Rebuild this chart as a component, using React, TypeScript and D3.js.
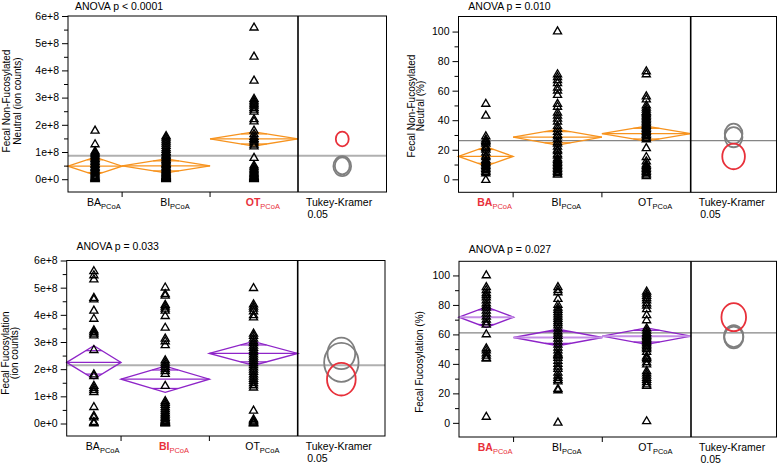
import React, { useEffect, useRef } from 'react'
import * as d3 from 'd3'

const groups = ['BA', 'BI', 'OT']
const groupSizes = [24, 39, 39]

// Fecal non-fucosylated neutral, ion counts (x 1e8)
const nfCountBA = [1.78, 1.28, 1.02, 0.97, 0.92, 0.86, 0.8, 0.74, 0.69, 0.63, 0.57, 0.52, 0.46, 0.41, 0.36, 0.31, 0.26, 0.21, 0.16, 0.11, 0.07, 0.04, 0.02, 0.0]
const nfCountBI = [1.58, 1.52, 1.45, 1.38, 1.3, 1.22, 1.14, 1.07, 1.0, 0.95, 0.9, 0.85, 0.8, 0.76, 0.71, 0.66, 0.61, 0.56, 0.52, 0.47, 0.43, 0.39, 0.35, 0.31, 0.27, 0.24, 0.21, 0.18, 0.15, 0.12, 0.1, 0.08, 0.06, 0.05, 0.04, 0.03, 0.02, 0.01, 0.0]
const nfCountOT = [5.57, 4.5, 3.62, 2.95, 2.88, 2.82, 2.76, 2.7, 2.62, 2.55, 2.48, 2.2, 2.12, 1.78, 1.65, 1.55, 1.48, 1.42, 1.35, 1.27, 1.2, 0.78, 0.5, 0.44, 0.38, 0.33, 0.28, 0.24, 0.2, 0.17, 0.14, 0.11, 0.08, 0.06, 0.04, 0.03, 0.02, 0.01, 0.0]
const nfCountMeans = [0.48, 0.49, 1.48]
const nfCountCI = [0.33, 0.26, 0.26]
const nfCountTukeyR = [0.37, 0.31, 0.27]
const nfCountGrand = 0.86
const nfCountTicks = [0, 1, 2, 3, 4, 5, 6]

// Fecal non-fucosylated neutral, %
const nfPctBA = [51, 43, 29, 27, 26, 25, 24, 22, 21, 20, 18, 16, 15, 13, 12, 11, 10, 9, 8, 7, 6, 5, 4, -0.5]
const nfPctBI = [100, 71, 69, 67, 65, 62, 60, 57, 51, 49, 45, 43, 41, 39, 36, 34, 32, 30, 29, 27, 25, 24, 22, 20, 19, 17, 16, 14, 13, 12, 11, 10, 9, 8, 7, 6, 5, 4, 3]
const nfPctOT = [73, 71, 56, 54, 50, 48.5, 47, 45.5, 45, 44, 43, 42, 41, 40, 39, 38, 37, 36, 35, 34, 33, 32, 31, 30, 29, 28, 27, 21, 15, 12, 10, 9, 8, 7, 6, 5, 4, 3, 2]
const nfPctMeans = [15.5, 28.5, 30.9]
const nfPctCI = [6.6, 5.3, 5.1]
const nfPctTukeyR = [8.7, 6.8, 6.8]
const nfPctGrand = 26.2
const pctTicks = [0, 20, 40, 60, 80, 100]

// Fecal fucosylation, ion counts (x 1e8)
const fCountBA = [5.6, 5.45, 5.3, 4.62, 4.56, 4.15, 3.85, 3.42, 3.36, 3.3, 3.24, 2.7, 1.8, 1.74, 1.38, 1.3, 1.22, 1.15, 0.6, 0.28, 0.22, 0.05, 0.02, 0.0]
const fCountBI = [5.0, 4.76, 4.7, 4.36, 4.3, 4.22, 4.15, 3.95, 3.52, 3.12, 3.02, 2.88, 2.32, 2.24, 2.16, 2.08, 2.0, 1.92, 1.82, 1.38, 0.82, 0.75, 0.68, 0.6, 0.52, 0.45, 0.38, 0.32, 0.26, 0.2, 0.15, 0.11, 0.08, 0.06, 0.04, 0.03, 0.02, 0.01, 0.0]
const fCountOT = [4.98, 4.38, 4.3, 4.22, 4.12, 3.98, 3.9, 3.3, 3.22, 3.12, 3.02, 2.95, 2.86, 2.78, 2.7, 2.62, 2.54, 2.46, 2.38, 2.3, 2.22, 2.14, 2.06, 1.98, 1.9, 1.8, 1.72, 1.64, 1.56, 1.48, 1.4, 1.32, 0.47, 0.15, 0.1, 0.06, 0.03, 0.01, 0.0]
const fCountMeans = [2.25, 1.63, 2.58]
const fCountCI = [0.61, 0.48, 0.44]
const fCountTukeyR = [0.72, 0.6, 0.58]
const fCountGrand = 2.14

// Fecal fucosylation, %
const fPctBA = [100, 92, 90, 88, 86.5, 85, 83, 81, 79.5, 78, 76, 74, 72, 70, 68, 66.5, 60, 50.5, 49, 47, 45.5, 44, 43.5, 4]
const fPctBI = [92, 90, 88.5, 84, 80, 78, 76.5, 75, 73.5, 72, 70.5, 69, 67.5, 66, 64, 62, 60.5, 59, 57, 55, 53, 51, 49, 47, 45.5, 44, 42, 40, 38, 36.5, 34, 32, 30.5, 29, 28, 23, 22, 0, 46]
const fPctOT = [89, 87.5, 86, 84.5, 83, 81, 79.5, 77, 73, 69.5, 64, 62.5, 61, 60, 59, 58, 57, 56, 55, 54, 53, 52, 51, 50, 48, 45, 43, 41, 39.5, 35, 33.5, 32, 30.5, 29, 27.5, 26, 25, 1, 44]
const fPctMeans = [71.7, 57.9, 58.8]
const fPctCI = [7.0, 5.6, 5.6]
const fPctTukeyR = [9.5, 7.4, 7.4]
const fPctGrand = 61.1

const ORANGE = '#f7931e'
const PURPLE = '#8e24c8'
const RED = '#e8303a'
const FONT = '"Liberation Sans", Arial, Helvetica, sans-serif'

const countFmt = (d) => d3.format('.0e')(d * 1e8)
const pctFmt = (d) => String(d)

const panels = [
  {
    box: { left: 68, top: 16, right: 386.5, bottom: 192, divider: 298 },
    domain: [-0.47, 6.0], ticks: nfCountTicks, minorStep: 0.5, fmt: countFmt,
    values: [nfCountBA, nfCountBI, nfCountOT], means: nfCountMeans, ci: nfCountCI,
    tukeyR: nfCountTukeyR, grand: nfCountGrand, highlight: 2,
    title: 'ANOVA p < 0.0001', titleY: 10,
    color: ORANGE, meanColor: ORANGE, grandColor: '#b0b0b0', grandWidth: 2,
    ylabel: [{ t: 'Fecal Non-Fucosylated', x: 9.5 }, { t: 'Neutral (ion counts)', x: 21 }], ylabelY: 101,
  },
  {
    box: { left: 458.5, top: 16.5, right: 776.5, bottom: 192.3, divider: 690.7 },
    domain: [-8.8, 110.2], ticks: pctTicks, minorStep: 10, fmt: pctFmt,
    values: [nfPctBA, nfPctBI, nfPctOT], means: nfPctMeans, ci: nfPctCI,
    tukeyR: nfPctTukeyR, grand: nfPctGrand, highlight: 0,
    title: 'ANOVA p = 0.010', titleY: 10,
    color: ORANGE, meanColor: ORANGE, grandColor: '#858585', grandWidth: 1.2,
    ylabel: [{ t: 'Fecal Non-Fucosylated', x: 414.5 }, { t: 'Neutral  (%)', x: 424 }], ylabelY: 106,
  },
  {
    box: { left: 66.7, top: 260.5, right: 385, bottom: 436, divider: 297.7 },
    domain: [-0.46, 6.0], ticks: nfCountTicks, minorStep: 0.5, fmt: countFmt,
    values: [fCountBA, fCountBI, fCountOT], means: fCountMeans, ci: fCountCI,
    tukeyR: fCountTukeyR, grand: fCountGrand, highlight: 1,
    title: 'ANOVA p = 0.033', titleY: 250,
    color: PURPLE, meanColor: PURPLE, grandColor: '#b0b0b0', grandWidth: 2,
    ylabel: [{ t: 'Fecal Fucosylation', x: 8.5 }, { t: '(ion counts)', x: 17.5 }], ylabelY: 353,
  },
  {
    box: { left: 459, top: 261.3, right: 776.5, bottom: 437, divider: 691 },
    domain: [-9.6, 109.6], ticks: pctTicks, minorStep: 10, fmt: pctFmt,
    values: [fPctBA, fPctBI, fPctOT], means: fPctMeans, ci: fPctCI,
    tukeyR: fPctTukeyR, grand: fPctGrand, highlight: 0,
    title: 'ANOVA p = 0.027', titleY: 253,
    color: PURPLE, meanColor: '#c58fe6', grandColor: '#858585', grandWidth: 1.2,
    ylabel: [{ t: 'Fecal Fucosylation  (%)', x: 423 }], ylabelY: 362,
  },
]

function drawPanel(svg, p) {
  const { left, top, right, bottom, divider } = p.box
  const g = svg.append('g')
  const y = d3.scaleLinear().domain(p.domain).range([bottom, top])
  const cum = [0, ...d3.cumsum(groupSizes)]
  const x = d3.scaleLinear().domain([0, d3.sum(groupSizes)]).range([left, divider])
  const bands = groups.map((name, i) => ({ name, x0: x(cum[i]), x1: x(cum[i + 1]), xc: x((cum[i] + cum[i + 1]) / 2) }))

  // grand mean
  g.append('line')
    .attr('x1', left).attr('x2', right)
    .attr('y1', y(p.grand)).attr('y2', y(p.grand))
    .attr('stroke', p.grandColor).attr('stroke-width', p.grandWidth)

  // mean diamonds
  const line = d3.line()
  const k = Math.SQRT1_2
  bands.forEach((b, i) => {
    const m = p.means[i], h = p.ci[i]
    g.append('path')
      .attr('d', line([[b.x0, y(m)], [b.xc, y(m + h)], [b.x1, y(m)], [b.xc, y(m - h)]]) + 'Z')
      .attr('fill', 'none').attr('stroke', p.color).attr('stroke-width', 1.3)
    g.append('line')
      .attr('x1', b.x0).attr('x2', b.x1).attr('y1', y(m)).attr('y2', y(m))
      .attr('stroke', p.meanColor).attr('stroke-width', p.meanColor === p.color ? 1.2 : 2)
    const hw = ((b.x1 - b.x0) / 2) * (1 - k)
    ;[1, -1].forEach(s => {
      g.append('line')
        .attr('x1', b.xc - hw).attr('x2', b.xc + hw)
        .attr('y1', y(m + s * h * k)).attr('y2', y(m + s * h * k))
        .attr('stroke', p.color).attr('stroke-width', 1.2)
    })
  })

  // data points
  const tri = d3.symbol(d3.symbolTriangle, 28)
  bands.forEach((b, i) => {
    g.append('g').selectAll('path')
      .data(p.values[i])
      .join('path')
      .attr('d', tri)
      .attr('transform', d => `translate(${b.xc},${y(d)})`)
      .attr('fill', 'none').attr('stroke', '#000').attr('stroke-width', 1.35)
  })

  // frame + divider
  g.append('rect')
    .attr('x', left).attr('y', top).attr('width', right - left).attr('height', bottom - top)
    .attr('fill', 'none').attr('stroke', '#000').attr('stroke-width', 1)
  g.append('line')
    .attr('x1', divider).attr('x2', divider).attr('y1', top).attr('y2', bottom)
    .attr('stroke', '#000').attr('stroke-width', 1.6)

  // y axis
  const minor = d3.range(p.domain[0], p.domain[1], p.minorStep)
    .map(v => Math.round(v / p.minorStep) * p.minorStep)
    .filter(v => v >= p.domain[0] && v <= p.domain[1] && !p.ticks.includes(v))
  const ax = g.append('g').attr('transform', `translate(${left},0)`)
    .call(d3.axisLeft(y).tickValues(p.ticks).tickFormat(p.fmt).tickSize(6).tickPadding(3))
  ax.select('.domain').remove()
  ax.selectAll('text').attr('font-family', FONT).attr('font-size', 10.5).attr('fill', '#000')
  const axm = g.append('g').attr('transform', `translate(${left},0)`)
    .call(d3.axisLeft(y).tickValues(minor).tickFormat(() => '').tickSize(4))
  axm.select('.domain').remove()

  // x category ticks
  bands.slice(1).forEach(b => {
    g.append('line').attr('x1', b.x0).attr('x2', b.x0).attr('y1', bottom).attr('y2', bottom + 5)
      .attr('stroke', '#000').attr('stroke-width', 1)
  })

  // x labels
  bands.forEach((b, i) => {
    const hi = i === p.highlight
    const t = g.append('text').attr('y', bottom + 14).attr('font-family', FONT)
      .attr('fill', hi ? RED : '#000')
    const main = t.append('tspan').text(b.name).attr('font-size', 10.5).attr('font-weight', hi ? 'bold' : 'normal')
    t.append('tspan').text('PCoA').attr('font-size', 7.5).attr('dy', 2.5)
    const w = main.node().getComputedTextLength()
    t.attr('x', b.xc - w / 2 - 1)
  })

  // tukey-kramer labels
  g.append('text').attr('x', divider + 8).attr('y', bottom + 14).text('Tukey-Kramer')
    .attr('font-family', FONT).attr('font-size', 10.5)
  g.append('text').attr('x', divider + 9.5).attr('y', bottom + 25.5).text('0.05')
    .attr('font-family', FONT).attr('font-size', 10.5)

  // comparison circles
  const cx = (divider + right) / 2
  const order = [0, 1, 2].filter(i => i !== p.highlight).concat([p.highlight])
  order.forEach(i => {
    const ry = y(0) - y(p.tukeyR[i])
    g.append('ellipse')
      .attr('cx', cx).attr('cy', y(p.means[i]))
      .attr('rx', ry * 0.88).attr('ry', ry)
      .attr('fill', 'none').attr('stroke', i === p.highlight ? RED : '#7f7f7f').attr('stroke-width', 1.8)
  })

  // title
  g.append('text').attr('x', left + 51).attr('y', p.titleY).attr('text-anchor', 'middle')
    .text(p.title).attr('font-family', FONT).attr('font-size', 10.5)

  // y label
  p.ylabel.forEach(l => {
    g.append('text')
      .attr('transform', `translate(${l.x},${p.ylabelY}) rotate(-90)`)
      .attr('text-anchor', 'middle').text(l.t)
      .attr('font-family', FONT).attr('font-size', 10)
  })
}

export default function App() {
  const ref = useRef(null)
  useEffect(() => {
    const svg = d3.select(ref.current)
    svg.selectAll('*').remove()
    panels.forEach(p => drawPanel(svg, p))
  }, [])
  return (
    <svg ref={ref} width={777} height={464}
      style={{ position: 'absolute', left: 0, top: 0, background: '#fff', fontFamily: FONT }} />
  )
}
